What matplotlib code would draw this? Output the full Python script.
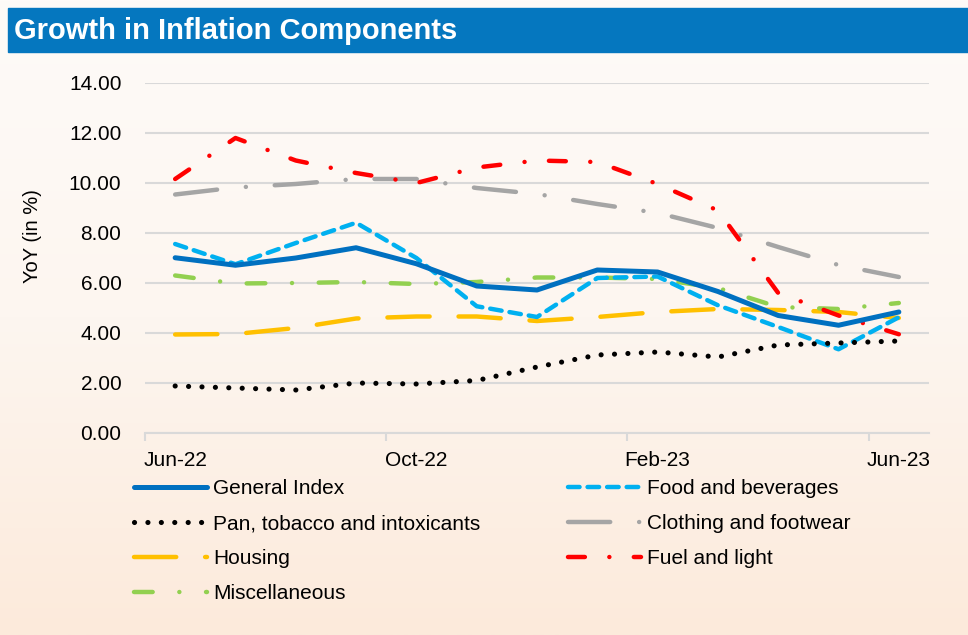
import numpy as np
import matplotlib
matplotlib.use("Agg")
import matplotlib.pyplot as plt
from matplotlib.colors import LinearSegmentedColormap

plt.rcParams['font.family'] = ['Liberation Sans', 'DejaVu Sans']

# months Jun-22 .. Jun-23
months = ['Jun-22', 'Jul-22', 'Aug-22', 'Sep-22', 'Oct-22', 'Nov-22', 'Dec-22',
          'Jan-23', 'Feb-23', 'Mar-23', 'Apr-23', 'May-23', 'Jun-23']
tick_labels = ['Jun-22', 'Oct-22', 'Feb-23', 'Jun-23']

general = [7.01, 6.71, 7.00, 7.41, 6.77, 5.88, 5.72, 6.52, 6.44, 5.66, 4.70, 4.31, 4.84]
food = [7.56, 6.75, 7.60, 8.41, 7.00, 5.07, 4.64, 6.20, 6.26, 5.11, 4.24, 3.35, 4.63]
pan = [1.88, 1.80, 1.72, 2.00, 1.96, 2.10, 2.64, 3.12, 3.24, 3.04, 3.52, 3.60, 3.68]
clothing = [9.54, 9.82, 9.96, 10.16, 10.16, 9.80, 9.56, 9.16, 8.80, 8.20, 7.44, 6.72, 6.24]
housing = [3.94, 3.96, 4.20, 4.58, 4.66, 4.66, 4.48, 4.64, 4.84, 4.96, 4.92, 4.84, 4.60]
fuel = [10.16, 11.80, 10.90, 10.40, 10.00, 10.62, 10.90, 10.84, 9.96, 8.90, 5.60, 4.70, 3.95]
misc = [6.30, 5.98, 6.00, 6.04, 5.96, 6.04, 6.22, 6.22, 6.16, 5.80, 5.04, 4.96, 5.20]

fig = plt.figure(figsize=(9.68, 6.35), dpi=100)

# background gradient white -> peach
bg = fig.add_axes([0, 0, 1, 1], zorder=-10)
cmap = LinearSegmentedColormap.from_list('bg', ['#FEFBF8', '#FDF6F0', '#FCEADB'])
grad = np.linspace(0, 1, 256).reshape(-1, 1)
bg.imshow(grad, aspect='auto', cmap=cmap, extent=[0, 1, 0, 1], origin='upper')
bg.set_xlim(0, 1)
bg.set_ylim(0, 1)
bg.axis('off')

# title bar
bg.add_patch(plt.Rectangle((8 / 968, 1 - 52 / 635), 1, 44 / 635, color='#0577BF', zorder=2))
fig.text(14 / 968, 1 - 31 / 635, 'Growth in Inflation Components', color='white',
         fontsize=21, fontweight='bold', va='center', ha='left')

ax = fig.add_axes([145 / 968, 1 - 433 / 635, 784 / 968, 350 / 635])
ax.patch.set_alpha(0)

x = np.arange(len(months))
lw = 3.2
ax.plot(x, general, color='#0070C0', lw=lw + 0.4, solid_capstyle='round', label='General Index', zorder=5)
ax.plot(x, food, color='#00B0F0', lw=lw, dashes=(2.6, 1.8), dash_capstyle='round', label='Food and beverages', zorder=4)
ax.plot(x, pan, color='black', lw=lw + 0.5, dashes=(0.01, 2.6), dash_capstyle='round', label='Pan, tobacco and intoxicants', zorder=4)
ax.plot(x, clothing, color='#A5A5A5', lw=lw, dashes=(9.5, 6.5, 0.01, 6.5), dash_capstyle='round', label='Clothing and footwear', zorder=3)
ax.plot(x, housing, color='#FFC000', lw=lw, dashes=(9.5, 6.5), dash_capstyle='round', label='Housing', zorder=3)
ax.plot(x, fuel, color='#FF0000', lw=lw, dashes=(3.8, 5.5, 0.01, 5.5), dash_capstyle='round', label='Fuel and light', zorder=4)
ax.plot(x, misc, color='#92D050', lw=lw, dashes=(4.2, 6.0, 0.01, 6.0), dash_capstyle='round', label='Miscellaneous', zorder=3)

ax.set_xlim(-0.5, len(months) - 0.5)
ax.set_ylim(0, 14)
ax.set_yticks(np.arange(0, 15, 2))
ax.set_yticklabels([f'{v:.2f}' for v in np.arange(0, 15, 2)])
ax.yaxis.grid(True, color='#D9D9D9', lw=1.5)
ax.set_axisbelow(True)
ax.set_xticks([months.index(m) for m in tick_labels])
ax.set_xticklabels(tick_labels)
ax.set_xticks([-0.5, 3.5, 7.5, 11.5], minor=True)
ax.tick_params(axis='x', which='major', length=0, pad=13, labelsize=15, colors='black')
ax.tick_params(axis='x', which='minor', length=6, width=1.5, color='#D9D9D9')
ax.tick_params(axis='y', length=0, pad=17, labelsize=15, colors='black')
for s in ['top', 'right', 'left']:
    ax.spines[s].set_visible(False)
ax.spines['bottom'].set_color('#D9D9D9')
ax.spines['bottom'].set_linewidth(1.5)

fig.text(32 / 968, 1 - 236 / 635, 'YoY (in %)', rotation=90, fontsize=14.5,
         va='center', ha='center')

# legend in row order: two columns
h, l = ax.get_legend_handles_labels()
order = [0, 2, 4, 6, 1, 3, 5]
fig.legend([h[i] for i in order], [l[i] for i in order], ncol=2, frameon=False,
           loc='upper left', bbox_to_anchor=(134 / 968, 1 - 479 / 635),
           fontsize=15, handlelength=3.5, handletextpad=0.3, columnspacing=4.2,
           labelspacing=0.77, borderpad=0, borderaxespad=0)

fig.savefig('out.png', dpi=100)
